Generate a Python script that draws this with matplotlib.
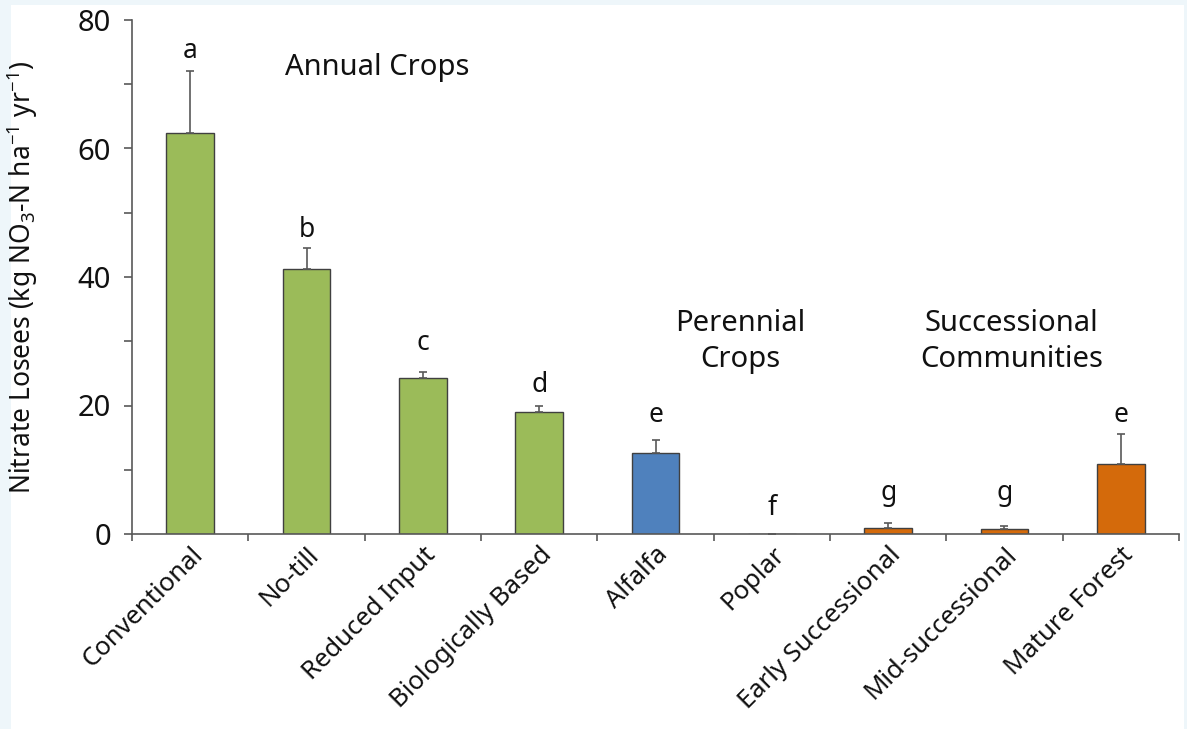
import numpy as np
import matplotlib
matplotlib.use("Agg")
import matplotlib.pyplot as plt
import matplotlib.transforms as mtransforms
from matplotlib.patches import Rectangle

plt.rcParams["font.family"] = ["Noto Sans", "DejaVu Sans"]
plt.rcParams["mathtext.fontset"] = "custom"
plt.rcParams["mathtext.rm"] = "Noto Sans"
plt.rcParams["mathtext.it"] = "Noto Sans"

### Data
systems = ["Conventional", "No-till", "Reduced Input", "Biologically Based", "Alfalfa",
           "Poplar", "Early Successional", "Mid-successional", "Mature Forest"]
losses = [62.4, 41.2, 24.3, 19.0, 12.6, 0.0, 0.9, 0.8, 10.9]
errors = [9.7, 3.3, 0.9, 0.9, 2.0, 0.0, 0.8, 0.4, 4.7]
letters = ["a", "b", "c", "d", "e", "f", "g", "g", "e"]
letter_y = [74.1, 46.2, 28.6, 22.1, 17.4, 3.0, 5.3, 5.3, 17.4]
groups = ["annual", "annual", "annual", "annual", "perennial", "perennial",
          "successional", "successional", "successional"]
###

group_colors = {"annual": "#9BBB59", "perennial": "#4F81BD", "successional": "#D46A0B"}
colors = [group_colors[g] for g in groups]
grey = "#595959"
txt = "#111111"

fig = plt.figure(figsize=(11.87, 7.29), dpi=100, facecolor="#EEF6FA")
fig.add_artist(Rectangle((11 / 1187, 0), 1173 / 1187, 1 - 5 / 729, transform=fig.transFigure,
                         facecolor="white", edgecolor="none", zorder=-10))
ax = fig.add_axes([132 / 1187, 1 - 534 / 729, 1047 / 1187, 514 / 729])
ax.set_facecolor("none")

x = np.arange(len(systems))
ax.bar(x, losses, width=0.41, color=colors, edgecolor="#404040", linewidth=1.0, zorder=2)
ax.errorbar(x, losses, yerr=[np.zeros(len(errors)), errors], fmt="none", ecolor=grey,
            elinewidth=1.2, capsize=3, capthick=1.2, zorder=3)

for xi, ly, lt in zip(x, letter_y, letters):
    ax.text(xi, ly, lt, ha="center", va="baseline", fontsize=19, color=txt)

ax.text(1.61, 71.4, "Annual Crops", ha="center", va="baseline", fontsize=21, color=txt)
ax.text(4.73, 31.6, "Perennial", ha="center", va="baseline", fontsize=21, color=txt)
ax.text(4.73, 26.0, "Crops", ha="center", va="baseline", fontsize=21, color=txt)
ax.text(7.06, 31.6, "Successional", ha="center", va="baseline", fontsize=21, color=txt)
ax.text(7.06, 26.0, "Communities", ha="center", va="baseline", fontsize=21, color=txt)

ax.set_xlim(-0.5, len(systems) - 0.5)
ax.set_ylim(0, 80)
ax.set_yticks([0, 20, 40, 60, 80])
ax.set_yticks([10, 30, 50, 70], minor=True)
ax.set_xticks(x)
ax.set_xticks(np.arange(len(systems) + 1) - 0.5, minor=True)
ax.set_xticklabels(systems, rotation=45, ha="right", rotation_mode="anchor", fontsize=18.5,
                   color=txt)
shift = mtransforms.ScaledTranslation(16 / 100, 0, fig.dpi_scale_trans)
for lab in ax.get_xticklabels():
    lab.set_transform(lab.get_transform() + shift)
ax.tick_params(axis="x", which="major", length=0, pad=6)
ax.tick_params(axis="x", which="minor", length=5, width=1.2, color=grey, direction="out")
ax.tick_params(axis="y", which="both", length=6, width=1.2, color=grey, labelsize=21, pad=9,
               labelcolor=txt)

for side in ["top", "right"]:
    ax.spines[side].set_visible(False)
for side in ["left", "bottom"]:
    ax.spines[side].set_color(grey)
    ax.spines[side].set_linewidth(1.2)

ax.set_ylabel("Nitrate Losees (kg NO$_3$-N ha$^{-1}$ yr$^{-1}$)", fontsize=19, color=txt)
ax.yaxis.set_label_coords(-0.088, 0.5)

fig.savefig("out.png", dpi=100, facecolor=fig.get_facecolor())
